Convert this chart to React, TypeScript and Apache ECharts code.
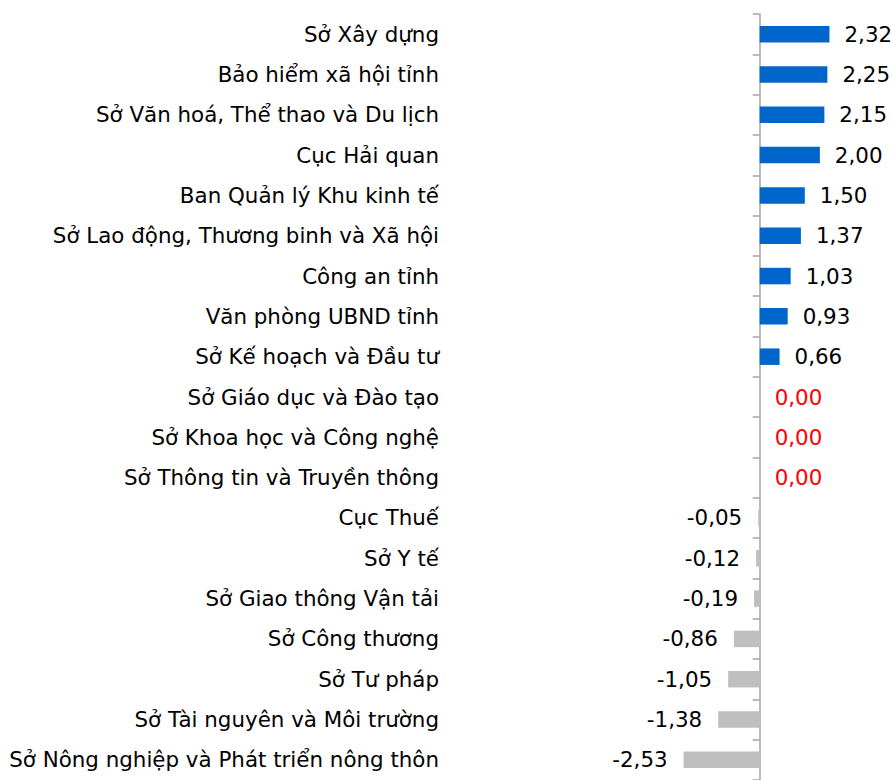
import React, { useEffect, useRef } from "react";
import * as echarts from "echarts";

const categories = [
  "Sở Xây dựng",
  "Bảo hiểm xã hội tỉnh",
  "Sở Văn hoá, Thể thao và Du lịch",
  "Cục Hải quan",
  "Ban Quản lý Khu kinh tế",
  "Sở Lao động, Thương binh và Xã hội",
  "Công an tỉnh",
  "Văn phòng UBND tỉnh",
  "Sở Kế hoạch và Đầu tư",
  "Sở Giáo dục và Đào tạo",
  "Sở Khoa học và Công nghệ",
  "Sở Thông tin và Truyền thông",
  "Cục Thuế",
  "Sở Y tế",
  "Sở Giao thông Vận tải",
  "Sở Công thương",
  "Sở Tư pháp",
  "Sở Tài nguyên và Môi trường",
  "Sở Nông nghiệp và Phát triển nông thôn",
];

const values = [
  2.32, 2.25, 2.15, 2.0, 1.5, 1.37, 1.03, 0.93, 0.66, 0, 0, 0, -0.05, -0.12,
  -0.19, -0.86, -1.05, -1.38, -2.53,
];

const FONT = "'DejaVu Sans', sans-serif";
const FS = 21.4;
const BLUE = "#0066CC";
const GRAY = "#BFBFBF";

export default function App() {
  const ref = useRef<HTMLDivElement>(null);
  useEffect(() => {
    if (!ref.current) return;
    const chart = echarts.init(ref.current, undefined, { renderer: "svg" });
    const fmt = (v: number) => v.toFixed(2).replace(".", ",");
    const data = values.map((v) => {
      if (v > 0) {
        return {
          value: v,
          itemStyle: { color: BLUE },
          label: { position: "right", distance: 15, color: "#000" },
        };
      } else if (v < 0) {
        return {
          value: v,
          itemStyle: { color: GRAY },
          label: { position: "left", distance: 16, color: "#000" },
        };
      }
      return {
        value: v,
        itemStyle: { color: GRAY },
        label: { position: "right", distance: 15, color: "#FF0000" },
      };
    });
    chart.setOption({
      animation: false,
      grid: { left: 459, right: 13, top: 14, height: 771.4, containLabel: false },
      xAxis: {
        type: "value",
        min: -10,
        max: 4,
        show: false,
        splitLine: { show: false },
      },
      yAxis: [
        {
          type: "category",
          data: categories,
          inverse: true,
          position: "left",
          axisLine: { show: false, onZero: false },
          axisTick: { show: false },
          axisLabel: {
            margin: 20,
            fontSize: FS,
            fontFamily: FONT,
            color: "#000",
          },
          splitLine: { show: false },
        },
        {
          type: "category",
          data: categories,
          inverse: true,
          position: "left",
          axisLine: { show: true, onZero: true, lineStyle: { color: "#A6A6A6", width: 1.5 } },
          axisTick: { show: true, length: 7, lineStyle: { color: "#A6A6A6", width: 1.5 } },
          axisLabel: { show: false },
          splitLine: { show: false },
        },
      ],
      series: [
        {
          type: "bar",
          yAxisIndex: 0,
          data,
          barWidth: 16.5,
          label: {
            show: true,
            fontSize: FS,
            fontFamily: FONT,
            formatter: (p: any) => fmt(p.value),
          },
        },
      ],
    });
    return () => chart.dispose();
  }, []);
  return (
    <div
      ref={ref}
      style={{ position: "fixed", left: 0, top: 0, width: 893, height: 780, background: "#fff" }}
    />
  );
}
